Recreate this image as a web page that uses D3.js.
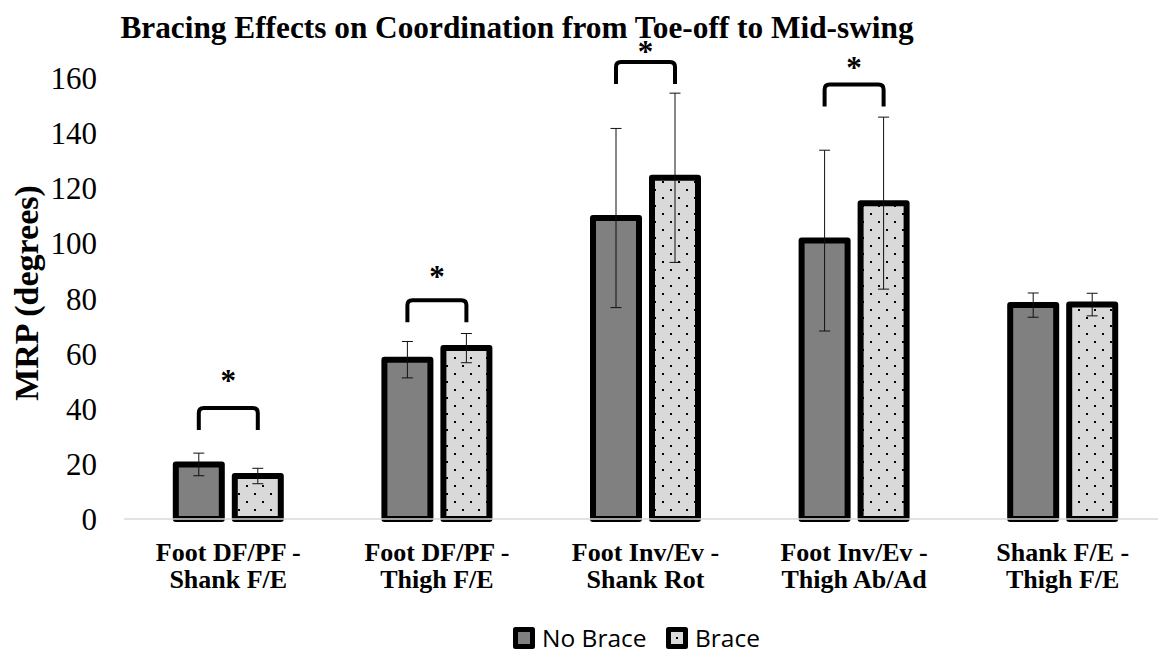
<!DOCTYPE html>
<html>
<head>
<meta charset="utf-8">
<script src="https://cdn.jsdelivr.net/npm/d3@7"></script>
<style>
  html, body { margin: 0; padding: 0; background: #fff; }
  svg { display: block; }
</style>
</head>
<body>
<svg id="chart" width="1158" height="653"></svg>
<script>
// Coordination pairs (two-line labels)
const categories = [
  ["Foot DF/PF -", "Shank F/E"],
  ["Foot DF/PF -", "Thigh F/E"],
  ["Foot Inv/Ev -", "Shank Rot"],
  ["Foot Inv/Ev -", "Thigh Ab/Ad"],
  ["Shank F/E -", "Thigh F/E"]
];
const seriesNames = ["No Brace", "Brace"];

// Mean MRP (degrees) and standard deviation per condition
const noBraceMean = [19.8, 57.8, 109.2, 101.0, 77.6];
const noBraceSD   = [4.1, 6.6, 32.5, 32.8, 4.4];
const braceMean   = [15.6, 62.0, 123.8, 114.6, 77.8];
const braceSD     = [2.8, 5.3, 30.7, 31.2, 4.1];

// Significance markers: which groups, bracket level and star level (degrees)
const significant  = [true, true, true, true, false];
const bracketLevel = [40.3, 79.4, 165.8, 157.6, null];
const starLevel    = [51.2, 88.9, 170.6, 164.7, null];

const yTicks = [0, 20, 40, 60, 80, 100, 120, 140, 160];
const title = "Bracing Effects on Coordination from Toe-off to Mid-swing";
const yTitle = "MRP (degrees)";

const svg = d3.select("#chart");
const serif = "'Liberation Serif', 'Times New Roman', serif";
const sans = "'Open Sans', 'Noto Sans', sans-serif";

const y = d3.scaleLinear().domain([0, 160]).range([519, 78]);
const x0 = d3.scaleBand().domain(d3.range(categories.length)).range([124, 1167]).padding(0);
const offset = [-29.5, 29.5];
const bw = 46;

// dotted fill for the brace condition
const defs = svg.append("defs");
const pat = defs.append("pattern")
  .attr("id", "dots").attr("patternUnits", "userSpaceOnUse")
  .attr("width", 16).attr("height", 16).attr("x", 3).attr("y", 2);
pat.append("rect").attr("width", 16).attr("height", 16).attr("fill", "#d9d9d9");
pat.append("rect").attr("x", 3).attr("y", 3).attr("width", 2).attr("height", 2).attr("fill", "#000");
pat.append("rect").attr("x", 11).attr("y", 11).attr("width", 2).attr("height", 2).attr("fill", "#000");

const fills = ["#808080", "url(#dots)"];

// title
svg.append("text")
  .attr("x", 517).attr("y", 38)
  .attr("text-anchor", "middle")
  .attr("font-family", serif).attr("font-weight", "bold").attr("font-size", 31.3)
  .text(title);

// y axis (labels only)
const yAxis = d3.axisLeft(y).tickValues(yTicks).tickSize(0).tickPadding(0);
const gy = svg.append("g").attr("transform", "translate(97,0)").call(yAxis);
gy.select(".domain").remove();
gy.selectAll("text")
  .attr("font-family", serif).attr("font-size", 31).attr("fill", "#000")
  .attr("dy", "0.34em");

// y axis title
svg.append("text")
  .attr("transform", "translate(38,293) rotate(-90)")
  .attr("text-anchor", "middle")
  .attr("font-family", serif).attr("font-weight", "bold").attr("font-size", 34)
  .text(yTitle);

// bars
const series = [
  { mean: noBraceMean, sd: noBraceSD },
  { mean: braceMean, sd: braceSD }
];
series.forEach((s, si) => {
  const g = svg.append("g");
  categories.forEach((c, ci) => {
    const cx = x0(ci) + x0.bandwidth() / 2 + offset[si];
    g.append("rect")
      .attr("x", cx - bw / 2)
      .attr("y", y(s.mean[ci]))
      .attr("width", bw)
      .attr("height", y(0) - y(s.mean[ci]))
      .attr("fill", fills[si])
      .attr("stroke", "#000").attr("stroke-width", 6)
      .attr("stroke-linejoin", "round");
  });
});

// baseline
svg.append("line")
  .attr("x1", 124).attr("x2", 1158)
  .attr("y1", y(0)).attr("y2", y(0))
  .attr("stroke", "#d9d9d9").attr("stroke-width", 1.5);

// error bars
series.forEach((s, si) => {
  const g = svg.append("g").attr("stroke", "#111").attr("stroke-width", 1);
  categories.forEach((c, ci) => {
    const cx = x0(ci) + x0.bandwidth() / 2 + offset[si];
    const hi = y(s.mean[ci] + s.sd[ci]);
    const lo = y(s.mean[ci] - s.sd[ci]);
    g.append("line").attr("x1", cx).attr("x2", cx).attr("y1", hi).attr("y2", lo);
    g.append("line").attr("x1", cx - 5.5).attr("x2", cx + 5.5).attr("y1", hi).attr("y2", hi);
    g.append("line").attr("x1", cx - 5.5).attr("x2", cx + 5.5).attr("y1", lo).attr("y2", lo);
  });
});

// significance brackets and stars
categories.forEach((c, ci) => {
  if (!significant[ci]) return;
  const cx = x0(ci) + x0.bandwidth() / 2;
  const xl = cx + offset[0], xr = cx + offset[1];
  const top = y(bracketLevel[ci]);
  const bottom = top + 22;
  const r = 5;
  const p = d3.path();
  p.moveTo(xl, bottom);
  p.lineTo(xl, top + r);
  p.quadraticCurveTo(xl, top, xl + r, top);
  p.lineTo(xr - r, top);
  p.quadraticCurveTo(xr, top, xr, top + r);
  p.lineTo(xr, bottom);
  svg.append("path").attr("d", p.toString())
    .attr("fill", "none").attr("stroke", "#000").attr("stroke-width", 4);
  svg.append("text")
    .attr("x", cx).attr("y", y(starLevel[ci]) + 13)
    .attr("text-anchor", "middle")
    .attr("font-family", serif).attr("font-weight", "bold").attr("font-size", 31)
    .text("*");
});

// category labels
categories.forEach((c, ci) => {
  const cx = x0(ci) + x0.bandwidth() / 2;
  const t = svg.append("text")
    .attr("text-anchor", "middle")
    .attr("font-family", serif).attr("font-weight", "bold").attr("font-size", 26);
  c.forEach((line, li) => {
    t.append("tspan").attr("x", cx).attr("y", 561 + li * 27).text(line);
  });
});

// legend
const legend = [
  { x: 513, label: seriesNames[0] },
  { x: 666, label: seriesNames[1] }
];
legend.forEach((l, i) => {
  const g = svg.append("g");
  g.append("rect")
    .attr("x", l.x + 2.5).attr("y", 629.5).attr("width", 17).attr("height", 17)
    .attr("fill", i === 0 ? "#808080" : "#d9d9d9")
    .attr("stroke", "#000").attr("stroke-width", 5)
    .attr("stroke-linejoin", "round");
  if (i === 1) {
    g.append("rect").attr("x", l.x + 10).attr("y", 637).attr("width", 2).attr("height", 2).attr("fill", "#000");
  }
  g.append("text")
    .attr("x", l.x + 29).attr("y", 647)
    .attr("font-family", sans).attr("font-size", 24.5)
    .text(l.label);
});
</script>
</body>
</html>
